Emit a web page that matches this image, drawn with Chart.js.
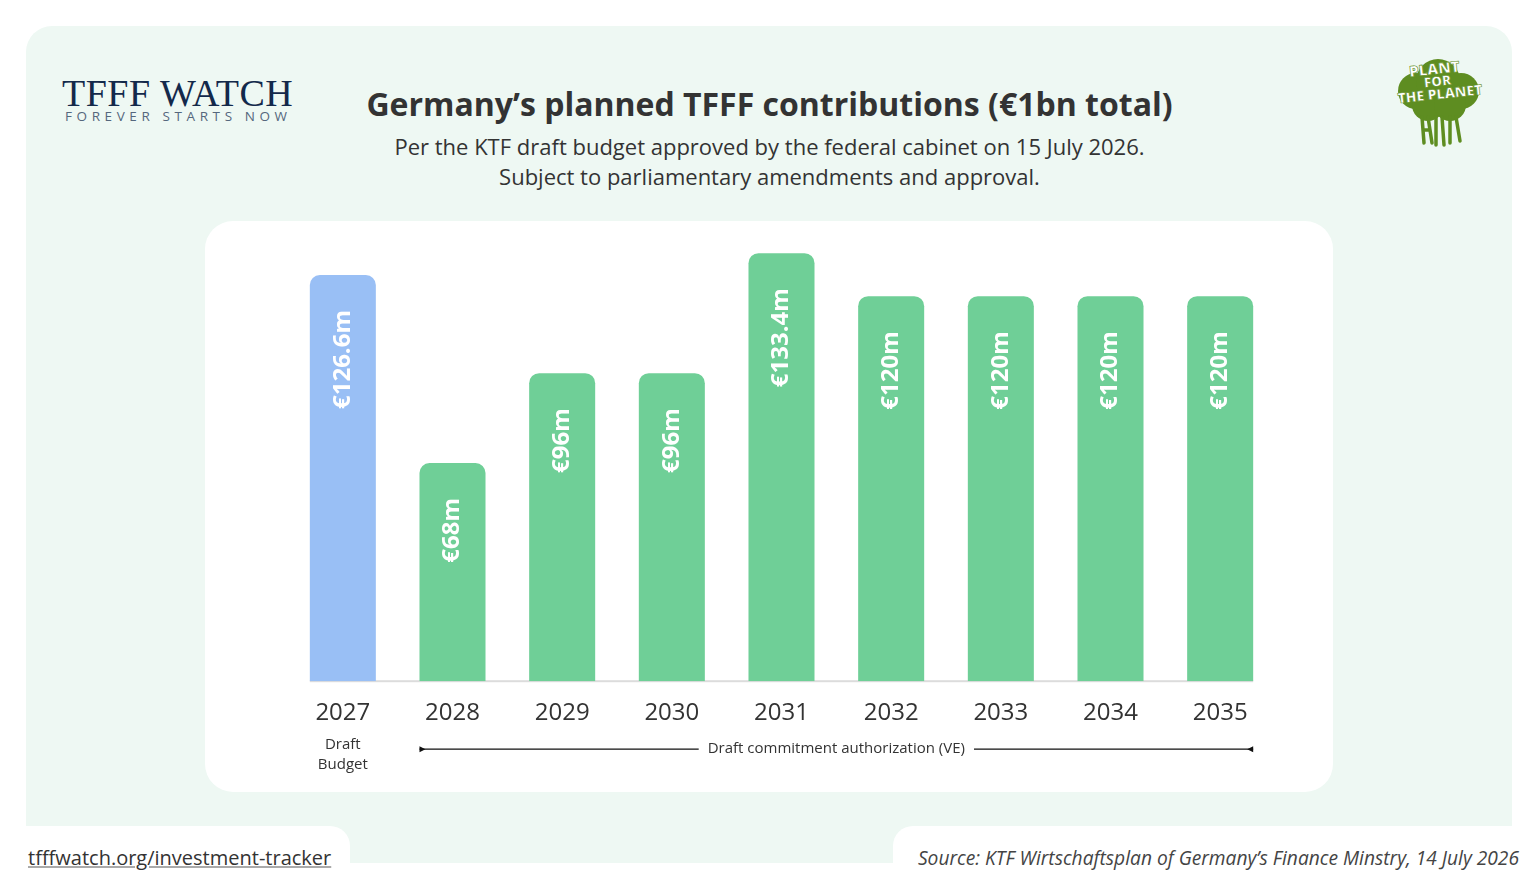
<!DOCTYPE html>
<html>
<head>
<meta charset="utf-8">
<script src="https://cdn.jsdelivr.net/npm/chart.js@4"></script>
<style>
  html, body { margin: 0; padding: 0; background: #ffffff; }
  body { width: 1539px; height: 890px; position: relative; overflow: hidden; font-family: "Open Sans", sans-serif; color: #333; }
  .panel { position: absolute; left: 26px; top: 26px; width: 1486px; height: 837px; background: #eef8f3; border-radius: 26px 26px 0 0; }
  .tab { position: absolute; top: 826px; height: 64px; background: #fff; }
  .tab.left { left: 0; width: 350px; border-top-right-radius: 20px; }
  .tab.right { left: 893px; width: 646px; border-top-left-radius: 20px; }
  .card { position: absolute; left: 205px; top: 221px; width: 1128px; height: 571px; background: #fff; border-radius: 28px; }
  .chartbox { position: absolute; left: 205px; top: 221px; width: 1128px; height: 571px; }
  h1 { position: absolute; left: 0; width: 1539px; top: 83px; margin: 0; text-align: center; font-size: 32px; font-weight: 700; line-height: 42px; color: #333; }
  .sub { position: absolute; left: 0; width: 1539px; top: 131px; text-align: center; font-size: 22px; line-height: 30px; color: #333; }
  .logo1 { position: absolute; left: 62px; top: 73px; font-family: "Liberation Serif", serif; font-size: 38px; line-height: 40px; color: #13294b; letter-spacing: 0.5px; }
  .logo2 { position: absolute; left: 65px; top: 108px; font-size: 13.5px; letter-spacing: 4.6px; color: #55677d; line-height: 16px; }
  .link { position: absolute; left: 28px; top: 845px; font-size: 20px; line-height: 26px; color: #333; text-decoration: underline; text-decoration-color: #aaa; }
  .source { position: absolute; right: 20px; top: 846px; font-size: 19.2px; line-height: 24px; font-style: italic; color: #444; }
  .ppl { position: absolute; left: 1388px; top: 55px; width: 100px; height: 95px; }
</style>
</head>
<body>
<div class="panel"></div>
<div class="tab left"></div>
<div class="tab right"></div>
<div class="card"></div>

<div class="logo1">TFFF WATCH</div>
<div class="logo2">FOREVER STARTS NOW</div>

<svg class="ppl" viewBox="0 0 100 95">
  <g fill="#5e8d21">
    <circle cx="28" cy="36" r="18"/>
    <circle cx="50" cy="26" r="22"/>
    <circle cx="73" cy="36" r="18"/>
    <circle cx="40" cy="50" r="16"/>
    <circle cx="62" cy="50" r="16"/>
  </g>
  <g stroke="#5e8d21" stroke-width="3.5" fill="none" stroke-linecap="round">
    <path d="M34 62 L36 88 M40 62 L44 88 M36 75 L42 75"/>
    <path d="M48 62 L48 90 M54 62 L56 90"/>
    <path d="M62 62 L62 88 M68 62 L72 86"/>
  </g>
  <g font-family="Open Sans, sans-serif" font-weight="800" fill="#fff" stroke="#5e8d21" stroke-width="0.6" text-anchor="middle" transform="rotate(-6 50 30)">
    <text x="48" y="19" font-size="15">PLANT</text>
    <text x="50" y="31" font-size="13.5">FOR</text>
    <text x="51" y="44" font-size="14">THE PLANET</text>
  </g>
</svg>

<h1>Germany’s planned TFFF contributions (€1bn total)</h1>
<div class="sub">Per the KTF draft budget approved by the federal cabinet on 15 July 2026.<br>Subject to parliamentary amendments and approval.</div>

<div class="chartbox"><canvas id="tfffChart"></canvas></div>

<div class="link">tfffwatch.org/investment-tracker</div>
<div class="source">Source: KTF Wirtschaftsplan of Germany’s Finance Minstry, 14 July 2026</div>

<script>
// data (million euro)
const years = ['2027', '2028', '2029', '2030', '2031', '2032', '2033', '2034', '2035'];
const amounts = [126.6, 68, 96, 96, 133.4, 120, 120, 120, 120];
const stages = ['budget', 've', 've', 've', 've', 've', 've', 've', 've'];
const budgetNote = ['Draft', 'Budget'];
const veNote = 'Draft commitment authorization (VE)';

const barColors = stages.map(s => s === 'budget' ? '#99bff5' : '#6fcf97');

const extrasPlugin = {
    id: 'extras',
    beforeDatasetsDraw(chart) {
        const ctx = chart.ctx;
        const bars = chart.getDatasetMeta(0).data;
        const first = bars[0], last = bars[bars.length - 1];
        ctx.save();
        ctx.fillStyle = '#dcdcdc';
        ctx.fillRect(first.x - first.width / 2, chart.chartArea.bottom - 1, (last.x + last.width / 2) - (first.x - first.width / 2), 2);
        ctx.restore();
    },
    afterDatasetsDraw(chart) {
        const ctx = chart.ctx;
        const bars = chart.getDatasetMeta(0).data;
        ctx.save();
        // value labels inside bars
        ctx.fillStyle = '#ffffff';
        ctx.font = 'bold 24px "Open Sans"';
        ctx.textAlign = 'right';
        ctx.textBaseline = 'middle';
        bars.forEach((bar, i) => {
            ctx.save();
            ctx.translate(bar.x, bar.y + 35);
            ctx.rotate(-Math.PI / 2);
            ctx.fillText('€' + amounts[i] + 'm', 0, 0);
            ctx.restore();
        });

        // notes under axis
        const noteY = chart.chartArea.bottom + 68;
        ctx.fillStyle = '#333';
        ctx.font = '15px "Open Sans"';
        ctx.textAlign = 'center';
        ctx.fillText(budgetNote[0], bars[0].x, noteY - 4);
        ctx.fillText(budgetNote[1], bars[0].x, noteY + 16);

        const veIdx = stages.map((s, i) => s === 've' ? i : -1).filter(i => i >= 0);
        const b0 = bars[veIdx[0]], b1 = bars[veIdx[veIdx.length - 1]];
        const x0 = b0.x - b0.width / 2, x1 = b1.x + b1.width / 2;
        const mid = (x0 + x1) / 2;
        const tw = ctx.measureText(veNote).width;
        ctx.fillText(veNote, mid, noteY);
        ctx.strokeStyle = '#111';
        ctx.lineWidth = 1.3;
        ctx.beginPath();
        ctx.moveTo(x0, noteY);
        ctx.lineTo(mid - tw / 2 - 9, noteY);
        ctx.moveTo(mid + tw / 2 + 9, noteY);
        ctx.lineTo(x1, noteY);
        ctx.stroke();
        ctx.fillStyle = '#111';
        ctx.beginPath();
        ctx.moveTo(x0, noteY - 3); ctx.lineTo(x0 + 6, noteY); ctx.lineTo(x0, noteY + 3); ctx.closePath();
        ctx.moveTo(x1, noteY - 3); ctx.lineTo(x1 - 6, noteY); ctx.lineTo(x1, noteY + 3); ctx.closePath();
        ctx.fill();
        ctx.restore();
    }
};

new Chart(document.getElementById('tfffChart'), {
    type: 'bar',
    data: {
        labels: years,
        datasets: [{
            data: amounts,
            backgroundColor: barColors,
            borderRadius: 10,
            borderSkipped: 'start',
            categoryPercentage: 1,
            barPercentage: 0.602
        }]
    },
    options: {
        responsive: true,
        maintainAspectRatio: false,
        animation: false,
        layout: { padding: { left: 83, right: 58, top: 11, bottom: 46 } },
        plugins: {
            legend: { display: false },
            tooltip: { enabled: false }
        },
        scales: {
            x: {
                grid: { display: false, drawTicks: false },
                border: { display: false },
                ticks: { color: '#333', font: { family: 'Open Sans', size: 24 }, padding: 18 }
            },
            y: {
                display: false,
                min: 0,
                max: 140
            }
        }
    },
    plugins: [extrasPlugin]
});
</script>
</body>
</html>
